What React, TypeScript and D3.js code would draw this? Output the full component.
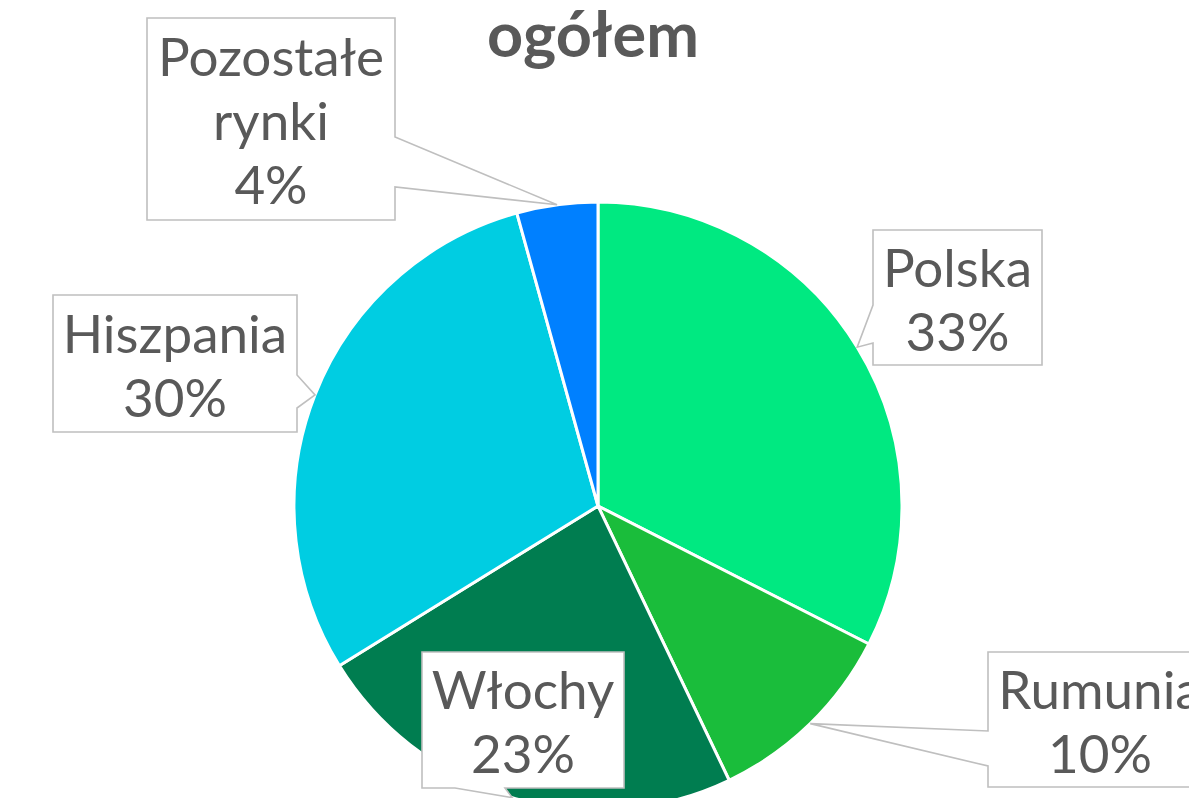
import React from "react";
import * as d3 from "d3";

const categories = ["Polska", "Rumunia", "Włochy", "Hiszpania", "Pozostałe rynki"];
const values = [32.5, 10.4, 23.3, 29.5, 4.3];
const labelLines = [["Polska"], ["Rumunia"], ["Włochy"], ["Hiszpania"], ["Pozostałe", "rynki"]];
const colors = ["#00E981", "#1ABD3B", "#007D50", "#00CDE2", "#0080FF"];
const title = "ogółem";

// callout layout: box rect + side where wedge attaches + wedge base offsets along that side
const boxes = [
  { x: 873, y: 230, w: 169, h: 135, side: "left", a: 75, b: 113 },
  { x: 988, y: 652, w: 224, h: 135, side: "left", a: 79, b: 114 },
  { x: 422, y: 652, w: 202, h: 136, side: "bottom", a: 33, b: 83 },
  { x: 53, y: 295, w: 244, h: 137, side: "right", a: 80, b: 113 },
  { x: 147, y: 18, w: 248, h: 202, side: "right", a: 119, b: 169 },
];

const W = 1189;
const H = 798;
const cx = 598;
const cy = 506;
const R = 304;
const FS = 53;
const LH = 64;
const textColor = "#595959";

function calloutPath(b: any, tip: [number, number]) {
  const { x, y, w, h, side, a, b: bb } = b;
  const pts: [number, number][] = [];
  if (side === "left") {
    pts.push([x, y], [x + w, y], [x + w, y + h], [x, y + h], [x, y + bb], tip, [x, y + a]);
  } else if (side === "right") {
    pts.push([x, y], [x + w, y], [x + w, y + a], tip, [x + w, y + bb], [x + w, y + h], [x, y + h]);
  } else {
    pts.push([x, y], [x + w, y], [x + w, y + h], [x + bb, y + h], tip, [x + a, y + h], [x, y + h]);
  }
  return "M" + pts.map((p) => p.join(",")).join("L") + "Z";
}

export default function App() {
  const pie = d3.pie<number>().sort(null).value((d) => d);
  const arcs = pie(values);
  const arc = d3.arc<d3.PieArcDatum<number>>().innerRadius(0).outerRadius(R);
  const edge = d3.arc<d3.PieArcDatum<number>>().innerRadius(R).outerRadius(R);
  const total = d3.sum(values);

  return (
    <svg
      width={W}
      height={H}
      style={{ position: "fixed", left: 0, top: 0, background: "#fff", fontFamily: "Lato, 'Open Sans', sans-serif" }}
    >
      <text x={593} y={57} textAnchor="middle" fontSize={63} fontWeight="bold" fill={textColor}>
        {title}
      </text>
      <g transform={`translate(${cx},${cy})`}>
        {arcs.map((d, i) => (
          <path key={categories[i]} d={arc(d) || ""} fill={colors[i]} stroke="#fff" strokeWidth={3} strokeLinejoin="round" />
        ))}
      </g>
      {arcs.map((d, i) => {
        const c = edge.centroid(d);
        const tip: [number, number] = [cx + c[0], cy + c[1]];
        const b = boxes[i];
        const pct = Math.round((d.value / total) * 100) + "%";
        const lines = [...labelLines[i], pct];
        const midY = b.y + b.h / 2;
        const midX = b.x + b.w / 2;
        return (
          <g key={"lab" + i}>
            <path d={calloutPath(b, tip)} fill="#fff" stroke="#BFBFBF" strokeWidth={1.6} />
            {lines.map((t, j) => (
              <text
                key={j}
                x={midX}
                y={midY + (j - (lines.length - 1) / 2) * LH + 21}
                textAnchor="middle"
                fontSize={FS}
                fill={textColor}
              >
                {t}
              </text>
            ))}
          </g>
        );
      })}
    </svg>
  );
}
